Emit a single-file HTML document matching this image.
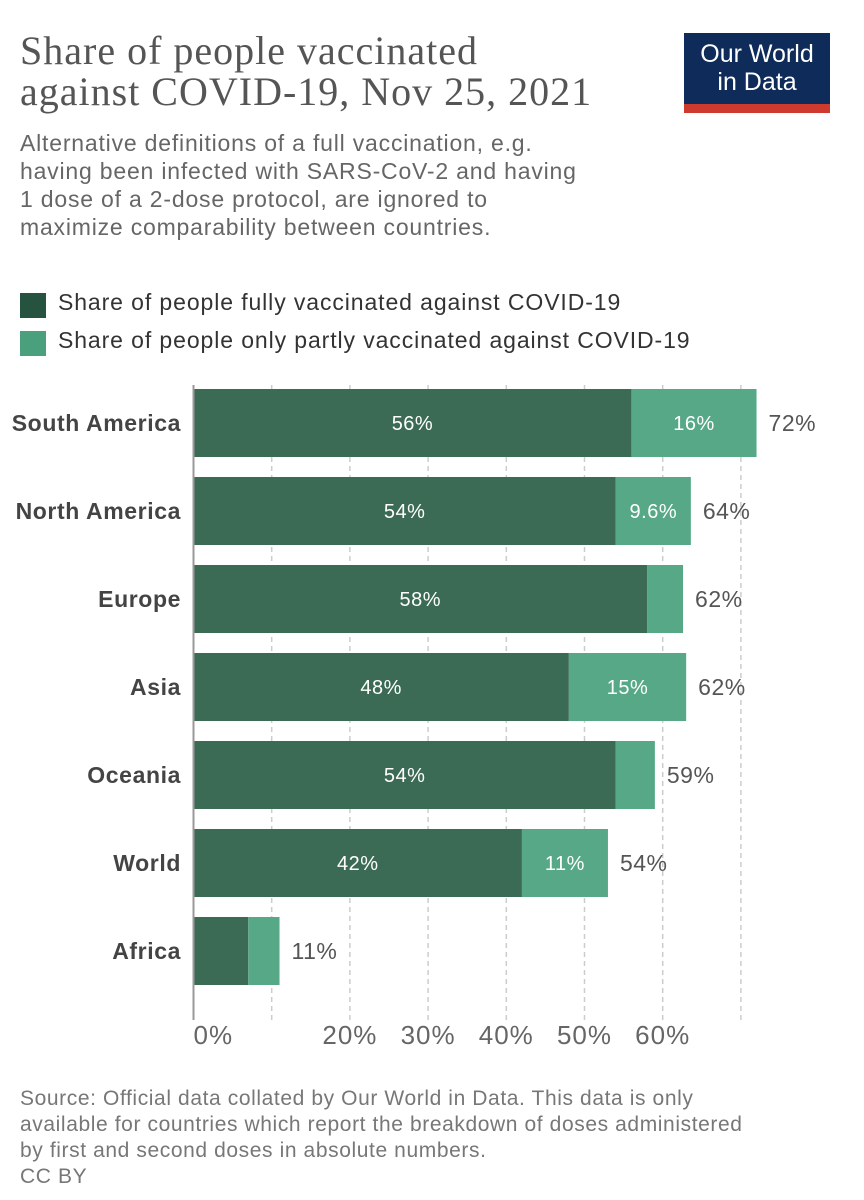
<!DOCTYPE html>
<html><head><meta charset="utf-8"><style>
body{margin:0;background:#fff;width:864px;height:1200px;overflow:hidden;font-family:"Liberation Sans",sans-serif;position:relative}
.t{position:absolute;white-space:nowrap}
</style></head><body>
<div class="t" style="left:20px;top:30px;font-family:'Liberation Serif',serif;font-size:40px;letter-spacing:1px;line-height:41px;color:#555">Share of people vaccinated<br>against COVID-19, Nov 25, 2021</div>
<div class="t" style="left:20px;top:129px;font-size:23px;letter-spacing:0.8px;line-height:28px;color:#666">Alternative definitions of a full vaccination, e.g.<br>having been infected with SARS-CoV-2 and having<br>1 dose of a 2-dose protocol, are ignored to<br>maximize comparability between countries.</div>
<div class="t" style="left:684px;top:33px;width:146px;background:#0f2b59;border-bottom:9px solid #cf3a2f;color:#fff;font-size:25px;line-height:28px;text-align:center;padding-top:7px;height:64px">Our World<br>in Data</div>
<div class="t" style="left:20px;top:293px;width:26px;height:25px;background:#25533f"></div>
<div class="t" style="left:58px;top:289px;font-size:23px;letter-spacing:0.9px;color:#333">Share of people fully vaccinated against COVID-19</div>
<div class="t" style="left:20px;top:331px;width:26px;height:25px;background:#4aa07d"></div>
<div class="t" style="left:58px;top:327px;font-size:23px;letter-spacing:0.9px;color:#333">Share of people only partly vaccinated against COVID-19</div>
<svg id="c" width="864" height="1200" style="position:absolute;left:0;top:0"></svg>
<div class="t" style="left:20px;top:1086px;font-size:21px;letter-spacing:0.6px;line-height:26px;color:#777">Source: Official data collated by Our World in Data. This data is only<br>available for countries which report the breakdown of doses administered<br>by first and second doses in absolute numbers.<br>CC BY</div>
<script>
const categories=["South America","North America","Europe","Asia","Oceania","World","Africa"];
const fullVals=[56,54,58,48,54,42,7];
const partVals=[16,9.6,4.6,15,5,11,4];
const totalLabels=["72%","64%","62%","62%","59%","54%","11%"];
const fullLabels=["56%","54%","58%","48%","54%","42%",""];
const partLabels=["16%","9.6%","","15%","","11%",""];
const gridTicks=[10,20,30,40,50,60,70];
const tickLabels=[[0,"0%"],[20,"20%"],[30,"30%"],[40,"40%"],[50,"50%"],[60,"60%"]];
const svg=document.getElementById('c');const NS="http://www.w3.org/2000/svg";
const x=v=>193.5+v*7.82;const y=i=>389+i*88;const bh=68;
function mk(t,a,txt){const e=document.createElementNS(NS,t);for(const k in a)e.setAttribute(k,a[k]);if(txt!==undefined)e.textContent=txt;svg.appendChild(e);return e;}
gridTicks.forEach(v=>{const l=mk('line',{x1:x(v),x2:x(v),y1:385,y2:1020,stroke:'#ccc','stroke-dasharray':'5,4','stroke-width':1.5});

});
tickLabels.forEach(([v,s])=>{const t=mk('text',{x:x(v),y:1044,'font-size':26,'letter-spacing':1,fill:'#666','text-anchor':v===0?'start':'middle','font-family':'Liberation Sans,sans-serif'},s);

});
categories.forEach((c,i)=>{
const yy=y(i);
const r1=mk('rect',{x:x(0),y:yy,width:x(fullVals[i])-x(0),height:bh,fill:'#3b6b55'});


const r2=mk('rect',{x:x(fullVals[i]),y:yy,width:x(fullVals[i]+partVals[i])-x(fullVals[i]),height:bh,fill:'#57a886'});


const lb=mk('text',{x:181,y:yy+bh/2+8,'font-size':23,'letter-spacing':0.6,'font-weight':'bold',fill:'#444','text-anchor':'end','font-family':'Liberation Sans,sans-serif'},c);


if(fullLabels[i]){const t=mk('text',{x:(x(0)+x(fullVals[i]))/2,y:yy+bh/2+7,'font-size':20,'letter-spacing':0.5,fill:'#fff','text-anchor':'middle','font-family':'Liberation Sans,sans-serif'},fullLabels[i]);

}
if(partLabels[i]){const t=mk('text',{x:(x(fullVals[i])+x(fullVals[i]+partVals[i]))/2,y:yy+bh/2+7,'font-size':20,'letter-spacing':0.5,fill:'#fff','text-anchor':'middle','font-family':'Liberation Sans,sans-serif'},partLabels[i]);

}
const tt=mk('text',{x:x(fullVals[i]+partVals[i])+12,y:yy+bh/2+8,'font-size':23,'letter-spacing':0.5,fill:'#555','font-family':'Liberation Sans,sans-serif'},totalLabels[i]);


});
const ax=mk('line',{x1:x(0),x2:x(0),y1:385,y2:1020,stroke:'#999','stroke-width':2});


</script>
</body></html>
